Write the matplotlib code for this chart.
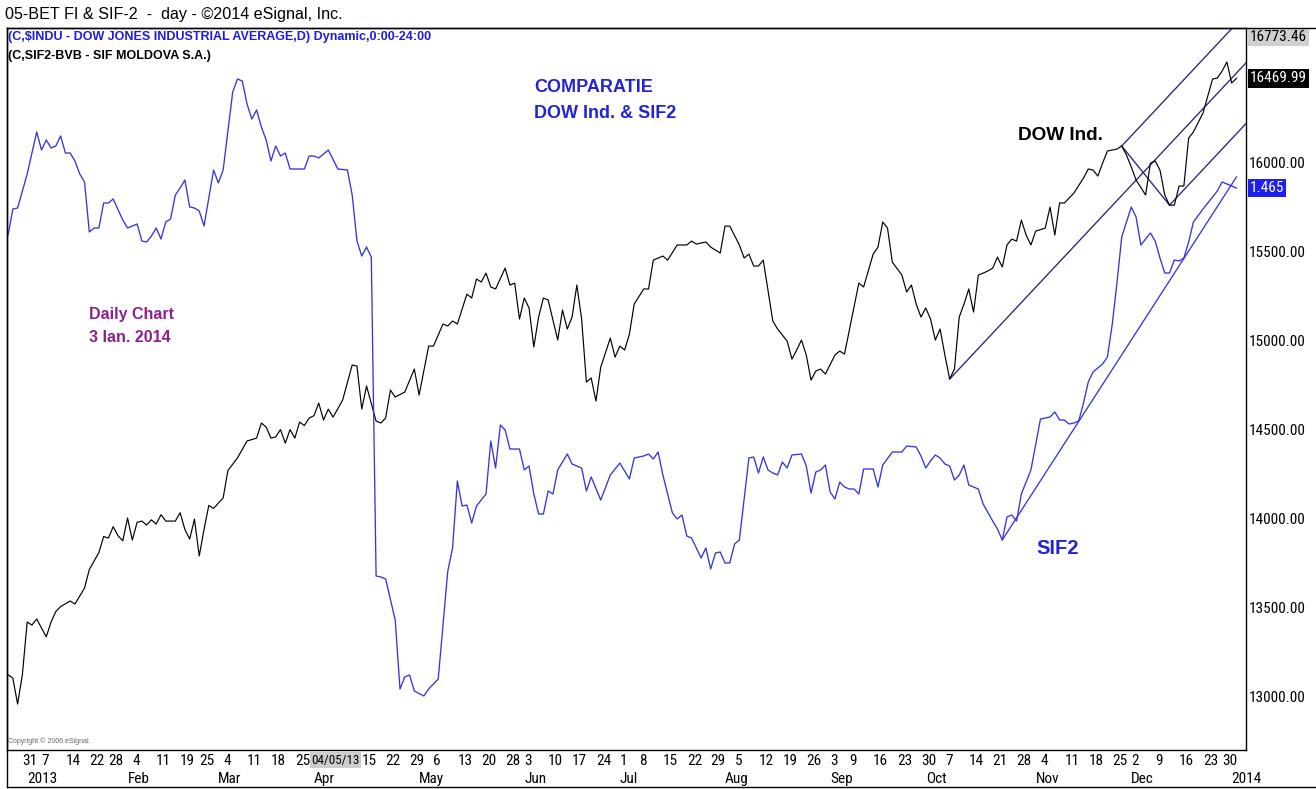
import matplotlib.pyplot as plt
import pandas as pd
from matplotlib import font_manager as fm
from matplotlib.lines import Line2D
from matplotlib.transforms import blended_transform_factory

# eSignal uses a narrow face on its scales, plain Arial elsewhere
installed = {f.name for f in fm.fontManager.ttflist}
narrow = next((n for n in ['Liberation Sans Narrow', 'Arial Narrow', 'Roboto Condensed',
                           'Archivo Narrow', 'PT Sans Narrow', 'IBM Plex Sans Condensed']
               if n in installed), 'Liberation Sans')
scale_size = 11 if narrow != 'Liberation Sans' else 9.2
plt.rcParams['font.family'] = [narrow, 'DejaVu Sans']
ARIAL = ['Liberation Sans', 'DejaVu Sans']

# days the NYSE was closed inside the window
holidays = ['2012-12-25', '2013-01-01', '2013-01-21', '2013-02-18', '2013-03-29',
            '2013-05-27', '2013-07-04', '2013-09-02', '2013-11-28', '2013-12-25',
            '2014-01-01']

# DOW Jones Industrial Average, daily close
dow_dates = [
    '2012-12-26', '2012-12-27', '2012-12-28', '2012-12-31',
    '2013-01-02', '2013-01-03', '2013-01-04', '2013-01-07', '2013-01-08', '2013-01-09',
    '2013-01-10', '2013-01-11', '2013-01-15', '2013-01-16', '2013-01-18', '2013-01-22',
    '2013-01-24', '2013-01-25', '2013-01-28', '2013-01-29', '2013-01-30', '2013-01-31',
    '2013-02-01', '2013-02-04', '2013-02-05', '2013-02-06', '2013-02-07', '2013-02-08',
    '2013-02-11', '2013-02-12', '2013-02-13', '2013-02-15', '2013-02-19', '2013-02-20',
    '2013-02-21', '2013-02-22', '2013-02-25', '2013-02-26', '2013-02-27', '2013-02-28',
    '2013-03-04', '2013-03-05', '2013-03-06', '2013-03-07', '2013-03-11', '2013-03-13',
    '2013-03-14', '2013-03-15', '2013-03-18', '2013-03-19', '2013-03-20', '2013-03-21',
    '2013-03-22', '2013-03-25', '2013-03-26', '2013-03-27', '2013-03-28',
    '2013-04-01', '2013-04-02', '2013-04-03', '2013-04-04', '2013-04-05', '2013-04-09',
    '2013-04-11', '2013-04-12', '2013-04-15', '2013-04-16', '2013-04-18', '2013-04-19',
    '2013-04-22', '2013-04-23', '2013-04-24', '2013-04-26', '2013-04-30',
    '2013-05-01', '2013-05-03', '2013-05-06', '2013-05-08', '2013-05-09', '2013-05-10',
    '2013-05-13', '2013-05-15', '2013-05-16', '2013-05-17', '2013-05-20', '2013-05-21',
    '2013-05-22', '2013-05-23', '2013-05-28', '2013-05-29', '2013-05-30', '2013-05-31',
    '2013-06-03', '2013-06-04', '2013-06-05', '2013-06-06', '2013-06-07', '2013-06-10',
    '2013-06-12', '2013-06-13', '2013-06-14', '2013-06-17', '2013-06-18', '2013-06-19',
    '2013-06-20', '2013-06-21', '2013-06-24', '2013-06-25', '2013-06-27', '2013-06-28',
    '2013-07-01', '2013-07-02', '2013-07-03', '2013-07-05', '2013-07-09', '2013-07-10',
    '2013-07-11', '2013-07-15', '2013-07-16', '2013-07-18', '2013-07-22', '2013-07-23',
    '2013-07-24', '2013-07-26', '2013-07-29', '2013-07-31',
    '2013-08-01', '2013-08-02', '2013-08-06', '2013-08-07', '2013-08-08', '2013-08-09',
    '2013-08-12', '2013-08-13', '2013-08-15', '2013-08-16', '2013-08-20', '2013-08-21',
    '2013-08-22', '2013-08-23', '2013-08-26', '2013-08-27', '2013-08-28', '2013-08-29',
    '2013-08-30',
    '2013-09-04', '2013-09-05', '2013-09-06', '2013-09-11', '2013-09-12', '2013-09-16',
    '2013-09-17', '2013-09-18', '2013-09-19', '2013-09-20', '2013-09-24', '2013-09-25',
    '2013-09-26', '2013-09-27', '2013-09-30',
    '2013-10-01', '2013-10-02', '2013-10-03', '2013-10-04', '2013-10-07', '2013-10-08',
    '2013-10-09', '2013-10-10', '2013-10-11', '2013-10-14', '2013-10-15', '2013-10-16',
    '2013-10-17', '2013-10-18', '2013-10-21', '2013-10-22', '2013-10-23', '2013-10-24',
    '2013-10-25', '2013-10-28', '2013-10-29', '2013-10-30', '2013-10-31',
    '2013-11-01', '2013-11-05', '2013-11-06', '2013-11-07', '2013-11-08', '2013-11-11',
    '2013-11-13', '2013-11-15', '2013-11-18', '2013-11-19', '2013-11-20', '2013-11-21',
    '2013-11-22', '2013-11-26', '2013-11-27', '2013-11-29',
    '2013-12-02', '2013-12-03', '2013-12-05', '2013-12-06', '2013-12-09', '2013-12-10',
    '2013-12-11', '2013-12-12', '2013-12-13', '2013-12-16', '2013-12-17', '2013-12-18',
    '2013-12-19', '2013-12-23', '2013-12-24', '2013-12-26', '2013-12-27', '2013-12-30',
    '2013-12-31',
    '2014-01-02', '2014-01-03']
dow_close = [
    13120, 13101, 12955, 13120,
    13416, 13399, 13433, 13382, 13333, 13416, 13475, 13503, 13534, 13517, 13607, 13711,
    13806, 13896, 13888, 13952, 13901, 13872,
    14000, 13876, 13976, 13983, 13961, 13990, 13966, 14019, 13983, 13983, 14030, 13936,
    13882, 13994, 13787, 13936, 14071, 14054,
    14113, 14267, 14303, 14338, 14433, 14449, 14534, 14511, 14449, 14456, 14497, 14421,
    14497, 14449, 14539, 14520, 14562,
    14575, 14646, 14551, 14612, 14567, 14663, 14860, 14854, 14612, 14742, 14545, 14534,
    14562, 14719, 14680, 14708, 14837,
    14691, 14966, 14966, 15090, 15079, 15107, 15090, 15258, 15236, 15343, 15326, 15376,
    15298, 15287, 15404, 15309, 15320, 15118,
    15236, 15180, 14961, 15129, 15236, 15225, 15000, 15169, 15062, 15129, 15309, 15118,
    14764, 14787, 14657, 14848, 15011, 14904,
    14966, 14944, 15034, 15202, 15287, 15287, 15449, 15472, 15449, 15534, 15534, 15556,
    15539, 15551, 15522, 15489,
    15640, 15640, 15534, 15461, 15483, 15416, 15416, 15449, 15107, 15062, 14994, 14893,
    14944, 15000, 14916, 14775, 14826, 14837, 14809,
    14916, 14938, 14921, 15320, 15298, 15483, 15522, 15663, 15629, 15438, 15365, 15270,
    15309, 15202, 15129,
    15180, 15118, 15000, 15062, 14916, 14781, 14837, 15129, 15202, 15287, 15157, 15365,
    15376, 15388, 15404, 15466, 15410, 15534, 15567, 15556, 15674, 15590, 15534,
    15612, 15629, 15747, 15590, 15770, 15770, 15826, 15910, 15961, 15955, 15921, 15994,
    16062, 16073, 16090, 16039,
    15972, 15899, 15815, 15994, 16006, 15955, 15815, 15758, 15758, 15865, 15865, 16135,
    16169, 16275, 16371, 16466, 16472, 16511, 16562,
    16444, 16469.99]

# SIF2 (SIF Moldova, BVB) daily close
sif_dates = [
    '2012-12-26', '2012-12-27', '2012-12-28',
    '2013-01-02', '2013-01-04', '2013-01-07', '2013-01-08', '2013-01-09', '2013-01-10',
    '2013-01-11', '2013-01-14', '2013-01-15', '2013-01-16', '2013-01-17', '2013-01-18',
    '2013-01-22', '2013-01-23', '2013-01-24', '2013-01-25', '2013-01-28', '2013-01-29',
    '2013-01-31',
    '2013-02-01', '2013-02-05', '2013-02-06', '2013-02-07', '2013-02-08', '2013-02-11',
    '2013-02-12', '2013-02-13', '2013-02-14', '2013-02-15', '2013-02-19', '2013-02-20',
    '2013-02-21', '2013-02-22', '2013-02-25', '2013-02-26', '2013-02-28',
    '2013-03-01', '2013-03-04', '2013-03-06', '2013-03-07', '2013-03-08', '2013-03-11',
    '2013-03-12', '2013-03-13', '2013-03-14', '2013-03-15', '2013-03-18', '2013-03-19',
    '2013-03-20', '2013-03-21', '2013-03-22', '2013-03-27', '2013-03-28',
    '2013-04-01', '2013-04-02', '2013-04-04', '2013-04-08', '2013-04-10', '2013-04-11',
    '2013-04-12', '2013-04-15', '2013-04-16', '2013-04-17', '2013-04-18', '2013-04-19',
    '2013-04-22', '2013-04-24', '2013-04-25', '2013-04-26', '2013-04-29', '2013-04-30',
    '2013-05-02', '2013-05-03', '2013-05-07', '2013-05-09', '2013-05-10', '2013-05-13',
    '2013-05-14', '2013-05-15', '2013-05-16', '2013-05-17', '2013-05-21', '2013-05-22',
    '2013-05-23', '2013-05-24', '2013-05-28', '2013-05-29', '2013-05-31',
    '2013-06-03', '2013-06-04', '2013-06-05', '2013-06-06', '2013-06-07', '2013-06-10',
    '2013-06-11', '2013-06-12', '2013-06-14', '2013-06-17', '2013-06-19', '2013-06-20',
    '2013-06-21', '2013-06-25', '2013-06-27',
    '2013-07-01', '2013-07-03', '2013-07-05', '2013-07-09', '2013-07-10', '2013-07-11',
    '2013-07-12', '2013-07-15', '2013-07-17', '2013-07-18', '2013-07-19', '2013-07-22',
    '2013-07-23', '2013-07-25', '2013-07-26', '2013-07-29', '2013-07-30', '2013-07-31',
    '2013-08-01', '2013-08-02', '2013-08-05', '2013-08-06', '2013-08-08', '2013-08-09',
    '2013-08-12', '2013-08-13', '2013-08-14', '2013-08-15', '2013-08-16', '2013-08-19',
    '2013-08-20', '2013-08-21', '2013-08-23', '2013-08-26', '2013-08-27', '2013-08-28',
    '2013-08-29', '2013-08-30',
    '2013-09-03', '2013-09-04', '2013-09-05', '2013-09-06', '2013-09-09', '2013-09-10',
    '2013-09-11', '2013-09-12', '2013-09-16', '2013-09-17', '2013-09-18', '2013-09-20',
    '2013-09-24', '2013-09-25', '2013-09-27', '2013-09-30',
    '2013-10-01', '2013-10-02', '2013-10-03', '2013-10-04', '2013-10-07', '2013-10-08',
    '2013-10-09', '2013-10-10', '2013-10-11', '2013-10-14', '2013-10-16', '2013-10-17',
    '2013-10-21', '2013-10-22', '2013-10-23', '2013-10-24', '2013-10-25', '2013-10-28',
    '2013-10-29', '2013-10-31',
    '2013-11-04', '2013-11-06', '2013-11-07', '2013-11-08', '2013-11-11', '2013-11-12',
    '2013-11-13', '2013-11-14', '2013-11-15', '2013-11-18', '2013-11-19', '2013-11-21',
    '2013-11-22', '2013-11-25', '2013-11-26', '2013-11-27', '2013-11-29',
    '2013-12-02', '2013-12-03', '2013-12-04', '2013-12-06', '2013-12-09', '2013-12-10',
    '2013-12-11', '2013-12-12', '2013-12-13', '2013-12-16', '2013-12-17', '2013-12-18',
    '2013-12-19', '2013-12-23', '2013-12-26', '2013-12-27', '2013-12-30', '2013-12-31',
    '2014-01-02', '2014-01-03']
sif_close = [
    1.418, 1.444, 1.445,
    1.479, 1.521, 1.503, 1.513, 1.505, 1.507, 1.517, 1.500, 1.500, 1.492, 1.479, 1.471,
    1.421, 1.425, 1.425, 1.450, 1.450, 1.454, 1.433,
    1.425, 1.429, 1.412, 1.411, 1.417, 1.425, 1.414, 1.431, 1.434, 1.458, 1.465, 1.473,
    1.446, 1.445, 1.442, 1.427, 1.483,
    1.470, 1.483, 1.561, 1.574, 1.572, 1.549, 1.534, 1.543, 1.526, 1.513, 1.492, 1.507,
    1.497, 1.500, 1.484, 1.484, 1.497,
    1.497, 1.495, 1.503, 1.484, 1.483, 1.458, 1.412, 1.397, 1.406, 1.396, 1.077, 1.076,
    1.074, 1.033, 0.964, 0.976, 0.978, 0.962,
    0.957, 0.964, 0.974, 1.082, 1.105, 1.172, 1.147, 1.148, 1.130, 1.147, 1.159, 1.212,
    1.185, 1.228, 1.223, 1.204, 1.204,
    1.183, 1.187, 1.159, 1.139, 1.139, 1.162, 1.159, 1.183, 1.199, 1.189, 1.185, 1.162,
    1.176, 1.153, 1.178,
    1.190, 1.174, 1.195, 1.197, 1.199, 1.194, 1.201, 1.178, 1.140, 1.134, 1.138, 1.117,
    1.115, 1.095, 1.105, 1.084, 1.100, 1.101,
    1.090, 1.090, 1.109, 1.113, 1.195, 1.196, 1.180, 1.196, 1.183, 1.180, 1.178, 1.191,
    1.185, 1.198, 1.199, 1.187, 1.160, 1.181, 1.183, 1.188,
    1.161, 1.154, 1.171, 1.166, 1.164, 1.164, 1.159, 1.184, 1.184, 1.166, 1.188, 1.201,
    1.201, 1.207, 1.206, 1.197,
    1.185, 1.192, 1.198, 1.195, 1.189, 1.187, 1.173, 1.178, 1.188, 1.168, 1.164, 1.149,
    1.132, 1.124, 1.113, 1.136, 1.138, 1.132, 1.159, 1.183,
    1.234, 1.236, 1.241, 1.233, 1.233, 1.229, 1.230, 1.232, 1.250, 1.271, 1.281, 1.289,
    1.296, 1.328, 1.370, 1.416, 1.431,
    1.446, 1.436, 1.408, 1.420, 1.412, 1.395, 1.380, 1.380, 1.393, 1.392, 1.395, 1.411,
    1.431, 1.444, 1.456, 1.462, 1.471, 1.469,
    1.467, 1.465]

# hand drawn trend lines (start / end points)
dow_line_start = [('2013-10-08', 14781), ('2013-11-27', 16090),
                  ('2013-11-27', 16090), ('2013-12-12', 15758)]
dow_line_end = [('2014-01-07', 16557), ('2014-01-07', 16835),
                ('2013-12-12', 15758), ('2014-01-07', 16216)]
sif_line_start = ('2013-10-23', 1.113)
sif_line_end = ('2014-01-03', 1.476)

# x axis labels
week_ticks = ['2012-12-31', '2013-01-07', '2013-01-14', '2013-01-22', '2013-01-28',
              '2013-02-04', '2013-02-11', '2013-02-19', '2013-02-25', '2013-03-04',
              '2013-03-11', '2013-03-18', '2013-03-25', '2013-04-15', '2013-04-22',
              '2013-04-29', '2013-05-06', '2013-05-13', '2013-05-20', '2013-05-28',
              '2013-06-03', '2013-06-10', '2013-06-17', '2013-06-24', '2013-07-01',
              '2013-07-08', '2013-07-15', '2013-07-22', '2013-07-29', '2013-08-05',
              '2013-08-12', '2013-08-19', '2013-08-26', '2013-09-03', '2013-09-09',
              '2013-09-16', '2013-09-23', '2013-09-30', '2013-10-07', '2013-10-14',
              '2013-10-21', '2013-10-28', '2013-11-04', '2013-11-11', '2013-11-18',
              '2013-11-25', '2013-12-02', '2013-12-09', '2013-12-16', '2013-12-23',
              '2013-12-30']
month_starts = ['2013-01-02', '2013-02-01', '2013-03-01', '2013-04-01', '2013-05-01',
                '2013-06-03', '2013-07-01', '2013-08-01', '2013-09-03', '2013-10-01',
                '2013-11-01', '2013-12-02', '2014-01-02']
month_names = ['2013', 'Feb', 'Mar', 'Apr', 'May', 'Jun', 'Jul', 'Aug', 'Sep', 'Oct',
               'Nov', 'Dec', '2014']
cursor_date = '2013-04-05'
dow_ticks = [13000, 13500, 14000, 14500, 15000, 15500, 16000]
dow_scale_top = 16773.46

# trading session number for every date (chart has no gaps for weekends)
sessions = pd.bdate_range('2012-12-24', '2014-01-10', freq='C', holidays=holidays)


def pos(dates):
    return sessions.get_indexer(pd.to_datetime(dates))


W, H = 1316, 789
fig = plt.figure(figsize=(W / 100, H / 100), dpi=100)
ax = fig.add_axes([7 / W, (H - 750) / H, 1239 / W, 722 / H])
ax2 = ax.twinx()

blue = '#3535e0'
navy = '#25257a'

ax.plot(pos(dow_dates), dow_close, color='black', lw=0.85, zorder=3)
ax2.plot(pos(sif_dates), sif_close, color=blue, lw=0.95, zorder=3)

for (d0, v0), (d1, v1) in zip(dow_line_start, dow_line_end):
    ax.plot(pos([d0, d1]), [v0, v1], color=navy, lw=0.95, zorder=2)
ax2.plot(pos([sif_line_start[0], sif_line_end[0]]),
         [sif_line_start[1], sif_line_end[1]], color=blue, lw=0.95, zorder=2)

x0 = pos(['2012-12-31'])[0]
ax.set_xlim(x0 - 3.22, x0 + 256.0)
ax.set_ylim(12697, 16753)
ax2.set_ylim(0.903, 1.625)

# right price scale
ax.yaxis.tick_right()
ax.set_yticks(dow_ticks)
ax.yaxis.set_major_formatter('{x:.2f}')
ax.tick_params(axis='y', length=0, pad=2, labelsize=scale_size,
               left=False, labelleft=False, right=True, labelright=True)
ax2.tick_params(axis='y', right=False, labelright=False)
for sp in ax2.spines.values():
    sp.set_visible(False)
for sp in ax.spines.values():
    sp.set_linewidth(1.0)

# date scale
ax.set_xticks(pos(week_ticks))
ax.set_xticklabels([str(pd.Timestamp(d).day) for d in week_ticks], ha='left')
ax.tick_params(axis='x', length=0, pad=3, labelsize=scale_size)
xt = blended_transform_factory(ax.transData, ax.transAxes)
for d, name in zip(pos(month_starts), month_names):
    ax.text(d, -0.040, name, transform=xt, ha='left', va='center', fontsize=scale_size)
# cursor date flag, squeezed between the Mar 25 and Apr 15 labels
ax.text(pos([cursor_date])[0] + 0.5, -0.005,
        pd.Timestamp(cursor_date).strftime('%m/%d/%y'),
        transform=xt, ha='center', va='top', fontsize=scale_size - 1.6, zorder=5,
        bbox=dict(fc='#cdcdcd', ec='none', pad=1.2))

# last-value flags on the price scale
yt = blended_transform_factory(ax.transAxes, ax.transData)
ax.text(1.003, 1 - 9 / 722, f'{dow_scale_top:.2f}', transform=ax.transAxes,
        ha='left', va='center', fontsize=scale_size,
        bbox=dict(fc='#d0d0d0', ec='none', pad=1.5))
ax.text(1.003, dow_close[-1], f'{dow_close[-1]:.2f}', transform=yt,
        ha='left', va='center', fontsize=scale_size, color='white',
        bbox=dict(fc='black', ec='none', pad=1.5))
yt2 = blended_transform_factory(ax2.transAxes, ax2.transData)
ax2.text(1.003, sif_close[-1], f'{sif_close[-1]:.3f}', transform=yt2,
         ha='left', va='center', fontsize=scale_size, color='white',
         bbox=dict(fc='#1f1ff0', ec='none', pad=1.5))


def fpos(px, py):
    return px / W, 1 - py / H


# header
fig.text(*fpos(5, 14), '05-BET FI & SIF-2  -  day - ©2014 eSignal, Inc.',
         fontsize=11.6, family=ARIAL, va='center')
fig.text(*fpos(8, 37), '(C,\\$INDU - DOW JONES INDUSTRIAL AVERAGE,D) Dynamic,0:00-24:00',
         fontsize=9.0, fontweight='bold', family=ARIAL, color='#1c1ce0', va='center')
fig.text(*fpos(8, 56), '(C,SIF2-BVB - SIF MOLDOVA S.A.)',
         fontsize=9.0, fontweight='bold', family=ARIAL, color='black', va='center')

# notes on the chart
note = dict(fontweight='bold', family=ARIAL, va='center')
fig.text(*fpos(534, 88), 'COMPARATIE', fontsize=13, color='#2323d6', **note)
fig.text(*fpos(534, 113), 'DOW Ind. & SIF2', fontsize=13, color='#2323d6', **note)
fig.text(*fpos(89, 315), 'Daily Chart', fontsize=11.5, color='#8e1f8e', **note)
fig.text(*fpos(89, 338), '3 Ian. 2014', fontsize=11.5, color='#8e1f8e', **note)
fig.text(*fpos(1018, 135), 'DOW Ind.', fontsize=13.7, color='black', **note)
fig.text(*fpos(1036, 548), 'SIF2', fontsize=14.5, color='#2323d6', **note)
fig.text(*fpos(8, 741), 'Copyright © 2006 eSignal.', fontsize=5, family=ARIAL,
         color='#666666', va='center')

# outer frame lines of the eSignal window
fig.add_artist(Line2D([7 / W, 1], [1 - 28 / H] * 2, color='black', lw=1.0))
fig.add_artist(Line2D([7 / W, 1], [1 - 787 / H] * 2, color='black', lw=1.0))
fig.add_artist(Line2D([7 / W] * 2, [1 - 28 / H, 1 - 787 / H], color='black', lw=1.0))

fig.savefig('out.png', dpi=100)
